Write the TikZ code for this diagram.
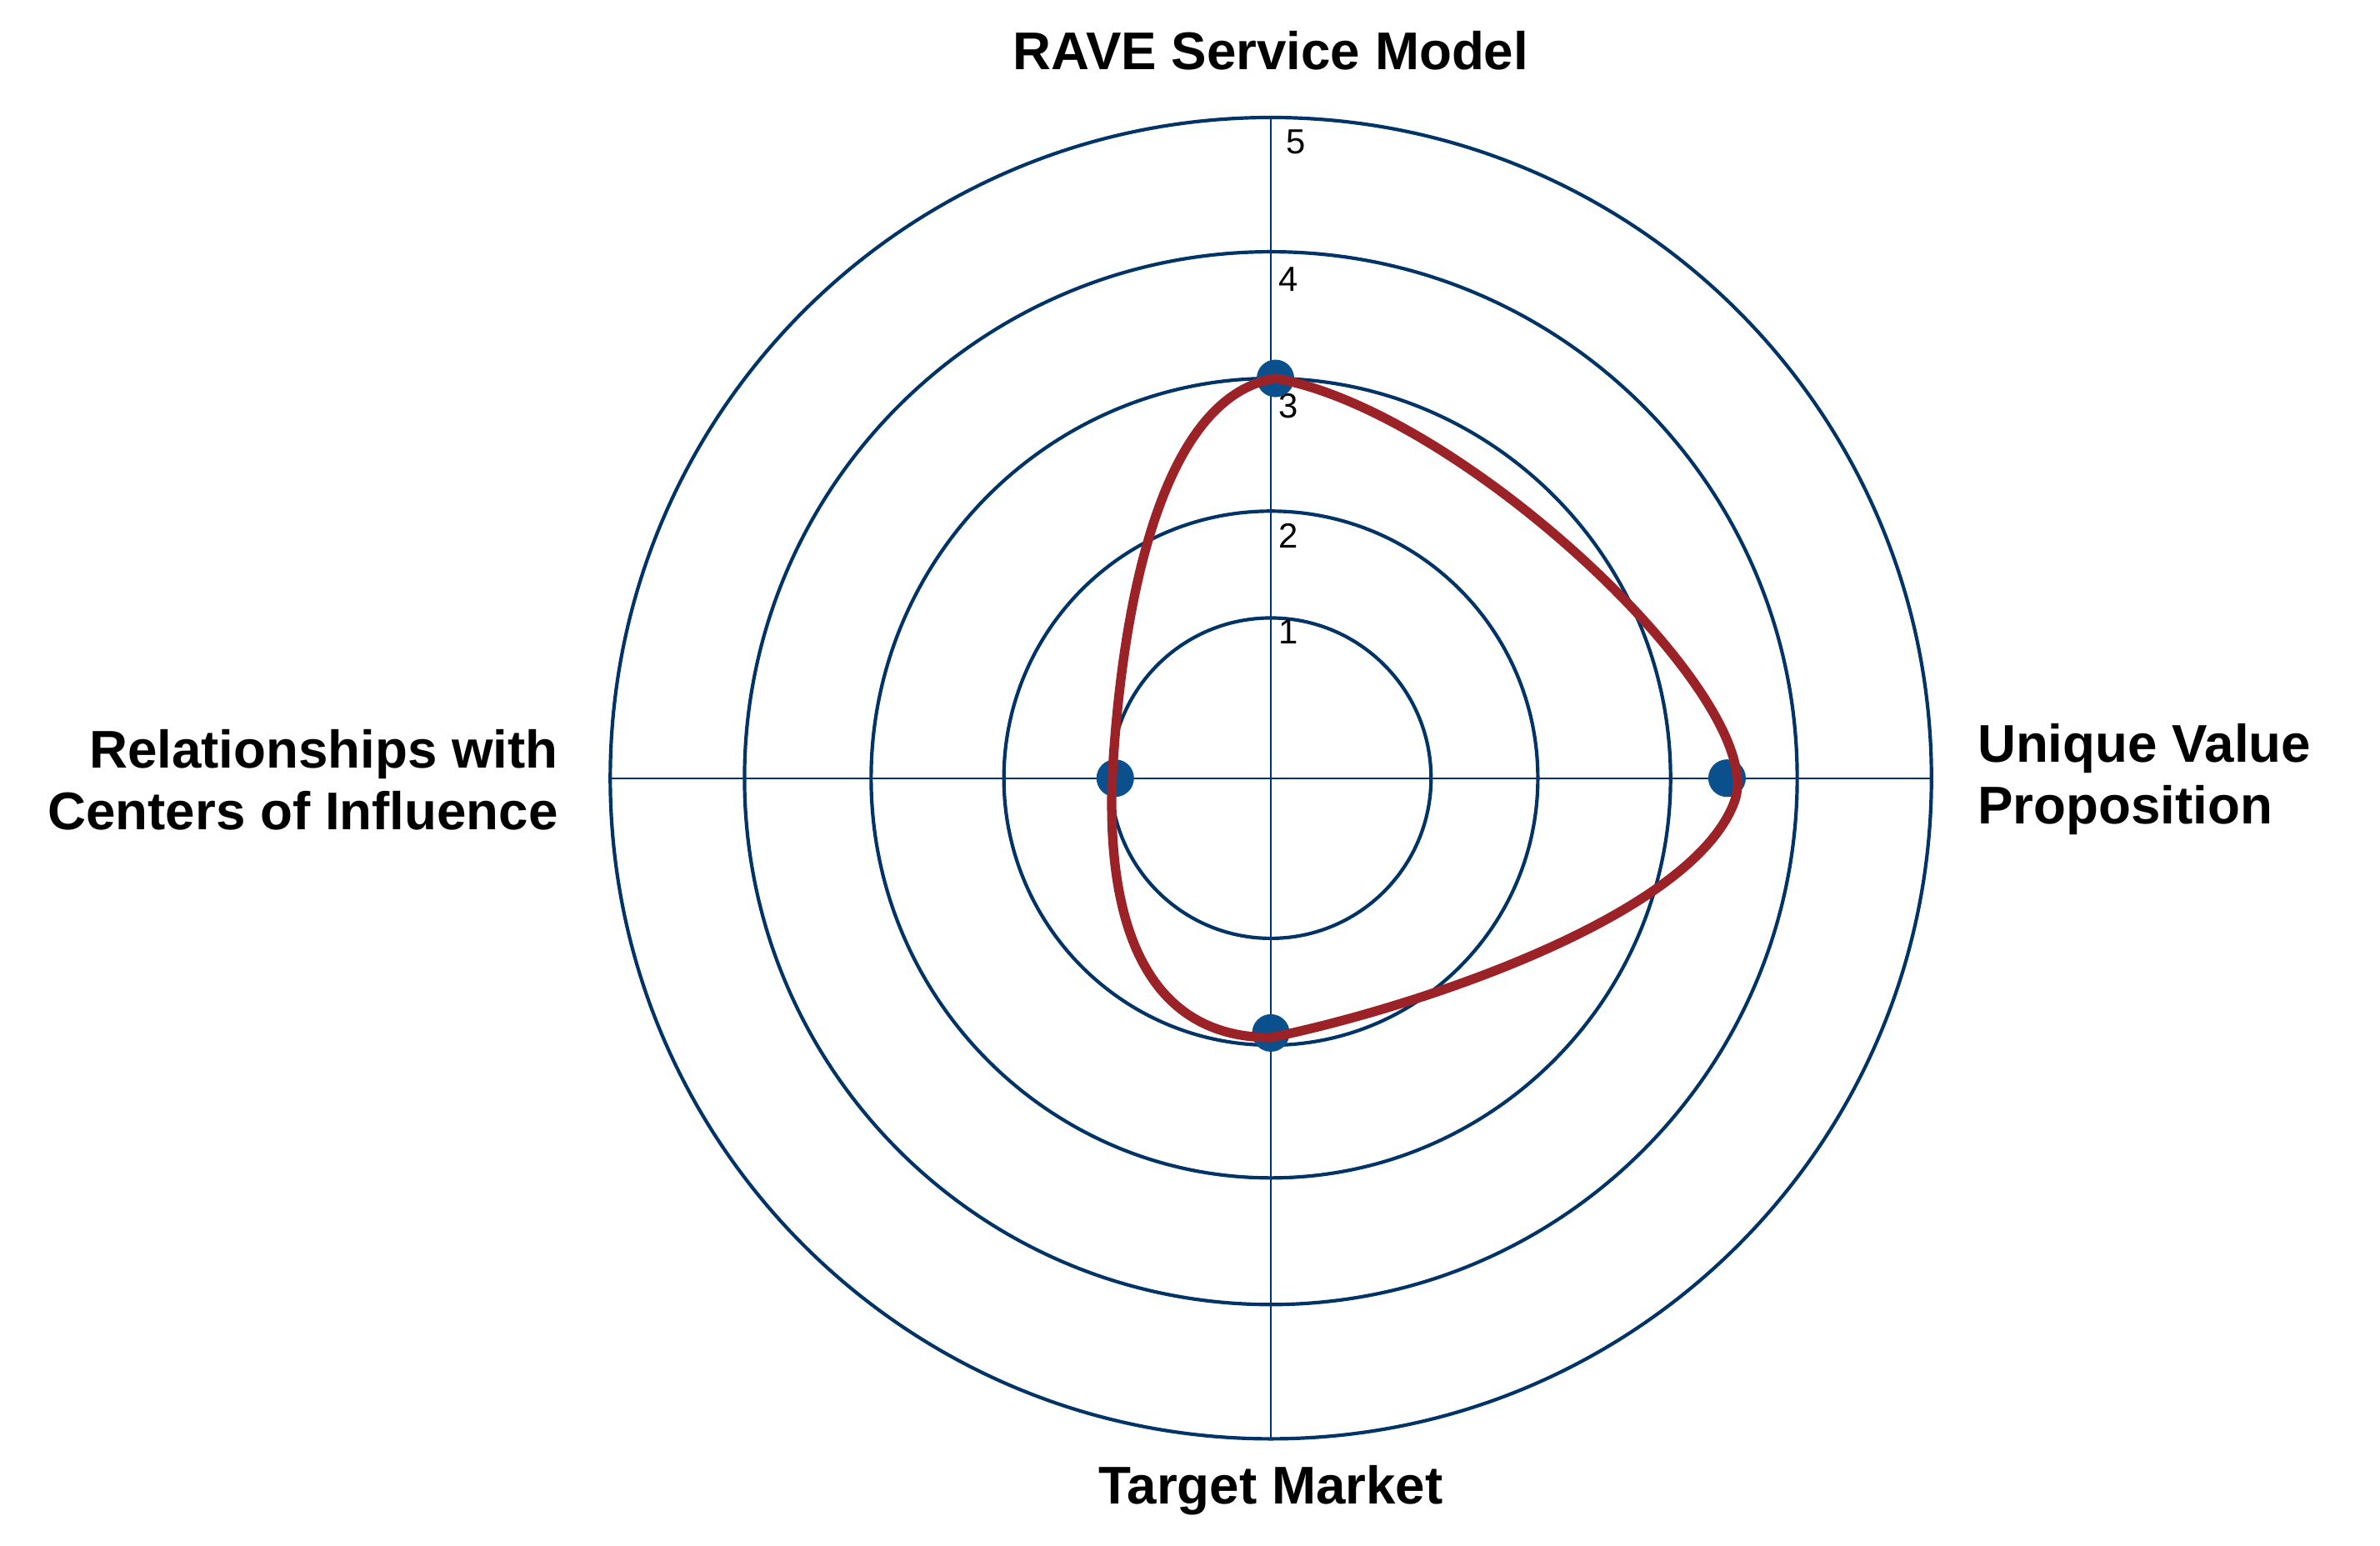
\documentclass[tikz,border=0pt]{standalone}
\usepackage{fontspec}
\setmainfont{Liberation Sans}
\begin{document}
\begin{tikzpicture}[x=0.02cm,y=-0.02cm,
  ring/.style={draw=navy,line width=1.3pt},
  axis/.style={draw=navy,line width=0.6pt},
  lab/.style={font=\fontsize{19.8}{23}\selectfont\bfseries},
  num/.style={font=\fontsize{13}{15}\selectfont,anchor=west,inner sep=0pt},
  dot/.style={circle,fill=dotblue,inner sep=0pt,minimum size=14pt}]
\definecolor{navy}{RGB}{0,51,102}
\definecolor{dotblue}{RGB}{10,80,140}
\definecolor{curvered}{RGB}{155,34,38}
\useasboundingbox (0,0) rectangle (1560,1013);
\coordinate (c) at (833,510);
\foreach \r in {105,175,262,345,433} \draw[ring] (c) circle[radius=\r];
\coordinate (l) at (400,510); \coordinate (r) at (1265,510);
\coordinate (t) at (833,78); \coordinate (b) at (833,942);
\draw[axis] (l) -- (r); \draw[axis] (t) -- (b);
\node[num] (n5) at (843,93) {5};
\node[num] (n4) at (838,183) {4};
\node[num] (n3) at (838,266) {3};
\node[num] (n2) at (838,351) {2};
\node[num] (n1) at (838,414) {1};
\node[dot] (pt) at (836,248) {};
\node[dot] (pr) at (1132,510) {};
\node[dot] (pb) at (833,677) {};
\node[dot] (pl) at (731,510) {};
\draw[curvered,line width=3.5pt] (836,248) .. controls (960,270) and (1160,460) .. (1137,525)
  .. controls (1110,600) and (930,660) .. (833,680)
  .. controls (760,680) and (725,620) .. (729,510)
  .. controls (735,400) and (760,260) .. (836,248) -- cycle;
\node[lab] (tl) at (833,33) {RAVE Service Model};
\node[lab] (bl) at (833,977) {Target Market};
\node[lab,anchor=west,align=left] (rl) at (1290,511) {Unique Value\\Proposition};
\node[lab,anchor=east,align=right] (ll) at (372,511) {Relationships with\\Centers of Influence};
\end{tikzpicture}
\end{document}
